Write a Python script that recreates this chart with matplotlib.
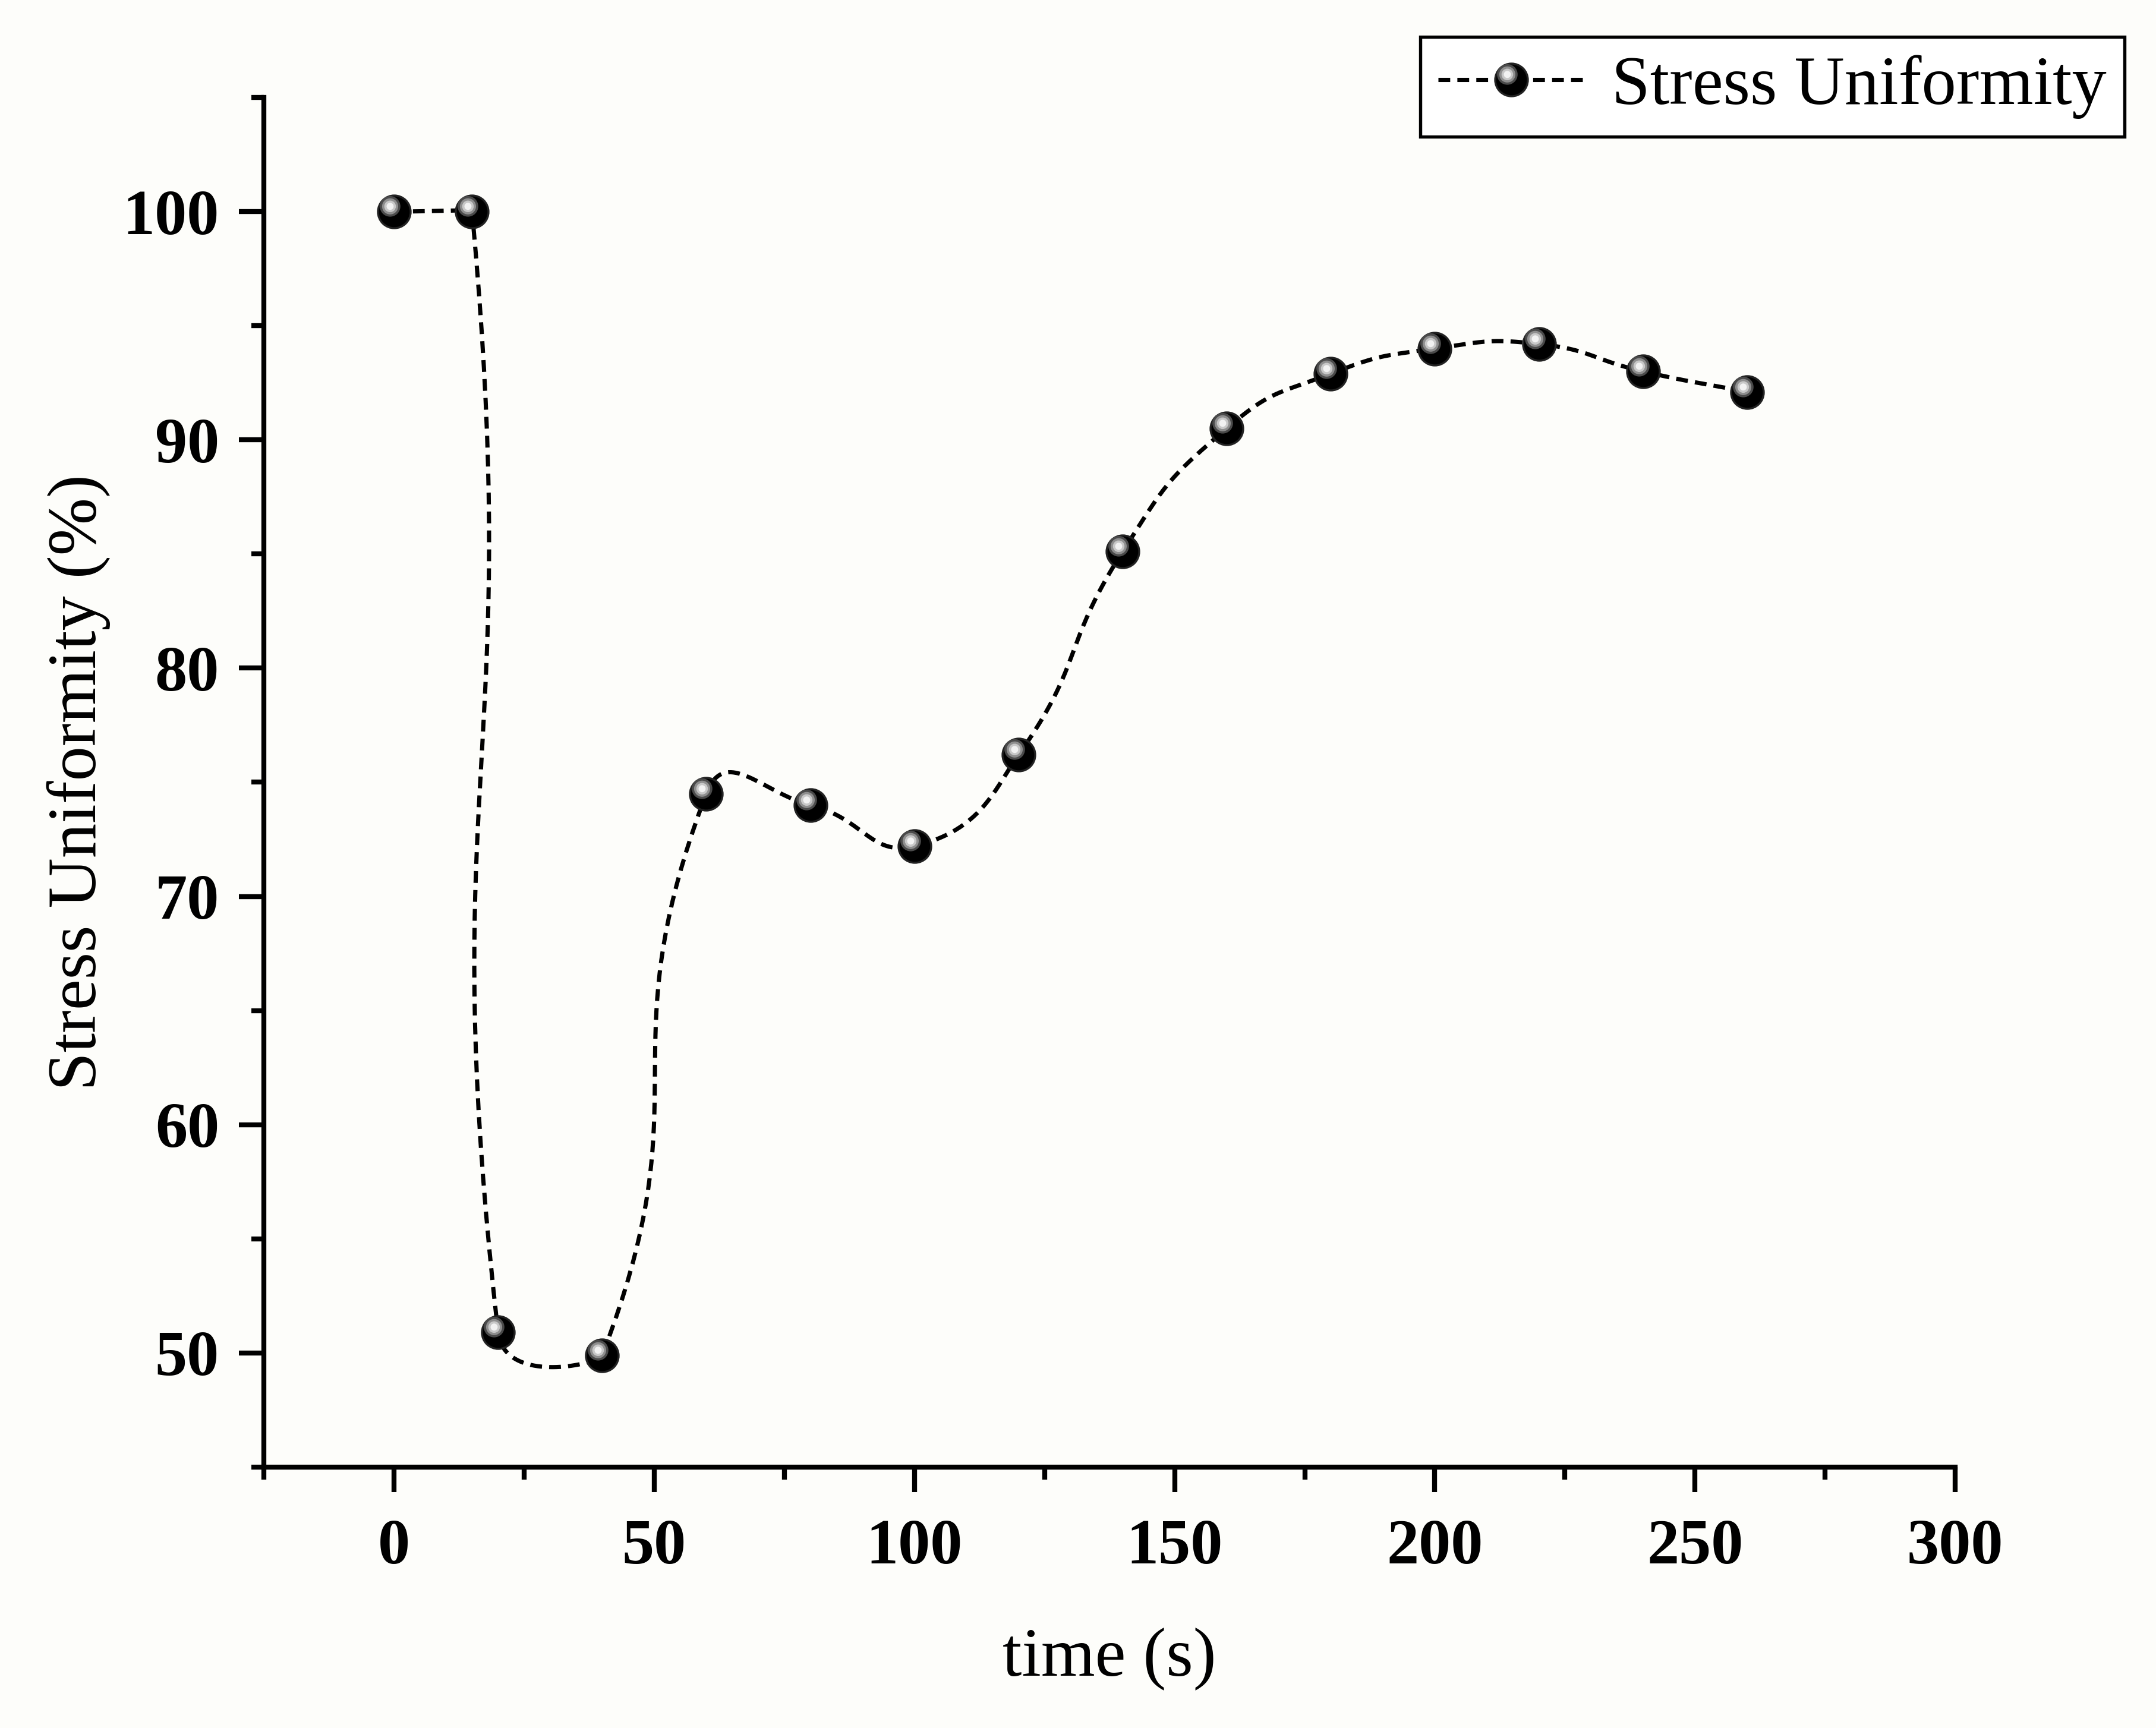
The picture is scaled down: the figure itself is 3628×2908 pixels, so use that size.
import numpy as np
import matplotlib
matplotlib.use("Agg")
import matplotlib.pyplot as plt
from matplotlib.path import Path
from matplotlib.legend_handler import HandlerTuple
from matplotlib.ticker import MultipleLocator

# data
time_s = [0, 15, 20, 40, 60, 80, 100, 120, 140, 160, 180, 200, 220, 240, 260]
uniformity = [100.0, 100.0, 50.9, 49.9, 74.5, 74.0, 72.2, 76.2, 85.1, 90.5,
              92.9, 94.0, 94.2, 93.0, 92.1]
x_ticks = [0, 50, 100, 150, 200, 250, 300]
y_ticks = [50, 60, 70, 80, 90, 100]

plt.rcParams['font.family'] = ['Liberation Serif', 'DejaVu Serif']

fig = plt.figure(figsize=(3628 / 300, 2908 / 300), dpi=300)
fig.patch.set_facecolor('#fdfdfa')
ax = fig.add_axes([0.1224, 0.1510, 0.7845, 0.7926])
ax.set_facecolor('none')
ax.set_xlim(-25, 300)
ax.set_ylim(45, 105)


def spline_connect(xs, ys, sx, sy, k=0.5, n=40):
    # smooth connector: cubic Bezier pieces in screen scale, tangent from the
    # neighbours; the handle entering a point is shortened when the next
    # piece is much longer (keeps short flat pieces flat)
    P = np.column_stack([np.asarray(xs, float) * sx, np.asarray(ys, float) * sy])
    m = len(P)
    T = np.zeros_like(P)
    for i in range(m):
        d = P[min(i + 1, m - 1)] - P[max(i - 1, 0)]
        T[i] = d / np.linalg.norm(d)
    L = np.linalg.norm(np.diff(P, axis=0), axis=1)
    s = np.linspace(0, 1, n)[:, None]
    pts = []
    for i in range(m - 1):
        damp = 1.0 if i + 1 >= m - 1 else min(1.0, L[i] / L[i + 1])
        c0, c3 = P[i], P[i + 1]
        c1 = c0 + T[i] * L[i] * k
        c2 = c3 - T[i + 1] * L[i] * k * damp
        pts.append((1 - s) ** 3 * c0 + 3 * (1 - s) ** 2 * s * c1
                   + 3 * (1 - s) * s ** 2 * c2 + s ** 3 * c3)
    pts = np.vstack(pts)
    return pts[:, 0] / sx, pts[:, 1] / sy


cx, cy = spline_connect(time_s, uniformity, 2846 / 325, 384.2 / 10)
dash = (0, (2.8, 1.7))
ax.plot(cx, cy, color='black', lw=1.7, ls=dash, zorder=2)

# sphere look: black ball plus off-centre light spots (padded to the ball box)
pad = Path([(-1, -1), (1, 1)], [Path.MOVETO, Path.MOVETO])


def spot(r):
    return Path.make_compound_path(pad, Path.circle((-0.13, 0.17), r))


ball, = ax.plot(time_s, uniformity, ls=dash, lw=1.7, color='black',
                marker='o', ms=13.2, mfc='black', mec='#222222', mew=0.8,
                zorder=3)
ball.set_data([], [])
ax.plot(time_s, uniformity, ls='none', marker='o', ms=13.2,
        mfc='black', mec='#222222', mew=0.8, zorder=3)
spots = []
for r, col, z in [(0.32, '#4a4a4a', 4), (0.25, '#8e8e8e', 5),
                  (0.18, '#c8c8c8', 6), (0.11, '#f2f2f2', 7)]:
    h, = ax.plot(time_s, uniformity, ls='none', marker=spot(r), ms=26,
                 mfc=col, mec='none', zorder=z)
    spots.append(h)

for s in ['top', 'right']:
    ax.spines[s].set_visible(False)
for s in ['left', 'bottom']:
    ax.spines[s].set_linewidth(2.0)

ax.set_xticks(x_ticks)
ax.set_yticks(y_ticks)
ax.xaxis.set_minor_locator(MultipleLocator(25))
ax.yaxis.set_minor_locator(MultipleLocator(5))
ax.tick_params(which='major', direction='out', length=10, width=2.0,
               labelsize=26)
ax.tick_params(which='minor', direction='out', length=5, width=2.0)
ax.tick_params(axis='x', which='major', pad=11)
ax.tick_params(axis='y', which='major', pad=8)
for lab in ax.get_xticklabels() + ax.get_yticklabels():
    lab.set_fontweight('bold')

ax.set_xlabel('time (s)', fontsize=28, labelpad=20)
ax.set_ylabel('Stress Uniformity (%)', fontsize=28, labelpad=5)

leg = ax.legend([tuple([ball] + spots)], ['Stress Uniformity'],
                handler_map={tuple: HandlerTuple(ndivide=1, pad=0)},
                loc='upper right', bbox_to_anchor=(0.9854, 0.9787),
                bbox_transform=fig.transFigure, borderaxespad=0,
                fontsize=28, handlelength=2.1, handletextpad=0.4,
                fancybox=False, edgecolor='black', framealpha=1,
                borderpad=0.26, numpoints=1)
leg.get_frame().set_linewidth(1.3)
leg.get_frame().set_facecolor('white')

fig.savefig('out.png', dpi=300, facecolor=fig.get_facecolor())
